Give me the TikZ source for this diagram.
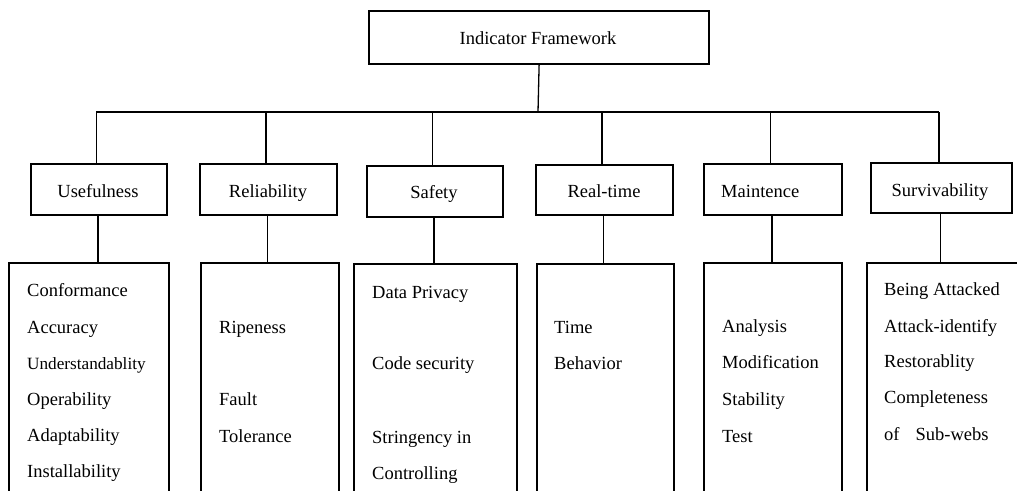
\documentclass[tikz,border=0pt]{standalone}
\usepackage{fontspec}
\setmainfont{Liberation Serif}
\begin{document}
\begin{tikzpicture}[x=1pt,y=-1pt,
  box/.style={draw=black, line width=1.7pt, rectangle, inner sep=0pt, anchor=north west},
  topbox/.style={box, line width=2.2pt},
  link/.style={draw=black, line width=1.3pt},
  lbl/.style={anchor=base, inner sep=0pt, font=\fontsize{18.5}{22}\selectfont},
  item/.style={anchor=base west, inner sep=0pt, font=\fontsize{18.5}{22}\selectfont},
  small/.style={item, font=\fontsize{17.2}{20}\selectfont}]
\useasboundingbox (0,0) rectangle (1017,490);

% root
\node[topbox, minimum width=340pt, minimum height=53pt] (root) at (368,10) {};
\node[lbl] (rootT) at (538,44) {Indicator Framework};

% second level
\node[box, minimum width=136pt, minimum height=51pt] (use) at (30,163) {};
\node[box, minimum width=137pt, minimum height=51pt] (rel) at (199,163) {};
\node[box, minimum width=136pt, minimum height=51pt] (saf) at (366,165) {};
\node[box, minimum width=137pt, minimum height=50pt] (rt)  at (535,164) {};
\node[box, minimum width=138pt, minimum height=51pt] (mnt) at (703,163) {};
\node[box, minimum width=141pt, minimum height=50pt] (srv) at (870,162) {};

\node[lbl] (useT) at (98,197) {Usefulness};
\node[lbl] (relT) at (268,197) {Reliability};
\node[lbl] (safT) at (434,198) {Safety};
\node[lbl] (rtT)  at (604,197) {Real-time};
\node[item] (mntT) at (721,197) {Maintence};
\node[lbl] (srvT) at (940,196) {Survivability};

% third level (open towards the bottom edge)
\node[box, minimum width=160pt, minimum height=240pt] (useL) at (8,262) {};
\node[box, minimum width=138pt, minimum height=240pt] (relL) at (200,262) {};
\node[box, minimum width=163pt, minimum height=240pt] (safL) at (353,263) {};
\node[box, minimum width=137pt, minimum height=240pt] (rtL)  at (536,263) {};
\node[box, minimum width=138pt, minimum height=240pt] (mntL) at (703,262) {};
\node[box, minimum width=170pt, minimum height=240pt] (srvL) at (866,262) {};

% connectors: root to bus, bus to the categories, categories to their lists
\coordinate (bus) at (538,112);
\draw[link] (root.south) -- (bus);
\draw[link] ([xshift=-2.5pt]bus -| use.north) -- ([xshift=-2.5pt]bus -| srv.north);
\foreach \n in {use,rel,saf,rt,mnt,srv}{
  \draw[link] ([xshift=-2.5pt]bus -| \n.north) -- ([xshift=-2.5pt]\n.north);
  \draw[link] ([xshift=-1pt]\n.south) -- ([xshift=-1pt]\n.south |- \n L.north);
}

% items
\node[item] (u1) at (27,296) {Conformance};
\node[item] (u2) at (27,333) {Accuracy};
\node[small] (u3) at (27,369) {Understandablity};
\node[item] (u4) at (27,405) {Operability};
\node[item] (u5) at (27,441) {Adaptability};
\node[item] (u6) at (27,477) {Installability};

\node[item] (r1) at (219,333) {Ripeness};
\node[item] (r2) at (219,405) {Fault};
\node[item] (r3) at (219,442) {Tolerance};

\node[item] (s1) at (372,298) {Data Privacy};
\node[item] (s2) at (372,369) {Code security};
\node[item] (s3) at (372,443) {Stringency in};
\node[item] (s4) at (372,479) {Controlling};

\node[item] (t1) at (554,333) {Time};
\node[item] (t2) at (554,369) {Behavior};

\node[item] (m1) at (722,332) {Analysis};
\node[item] (m2) at (722,368) {Modification};
\node[item] (m3) at (722,405) {Stability};
\node[item] (m4) at (722,442) {Test};

\node[item] (v1) at (884,295) {Being Attacked};
\node[item] (v2) at (884,332) {Attack-identify};
\node[item] (v3) at (884,367) {Restorablity};
\node[item] (v4) at (884,403) {Completeness};
\node[item] (v5) at (884,440) {of\hspace{16pt}Sub-webs};
\end{tikzpicture}
\end{document}
